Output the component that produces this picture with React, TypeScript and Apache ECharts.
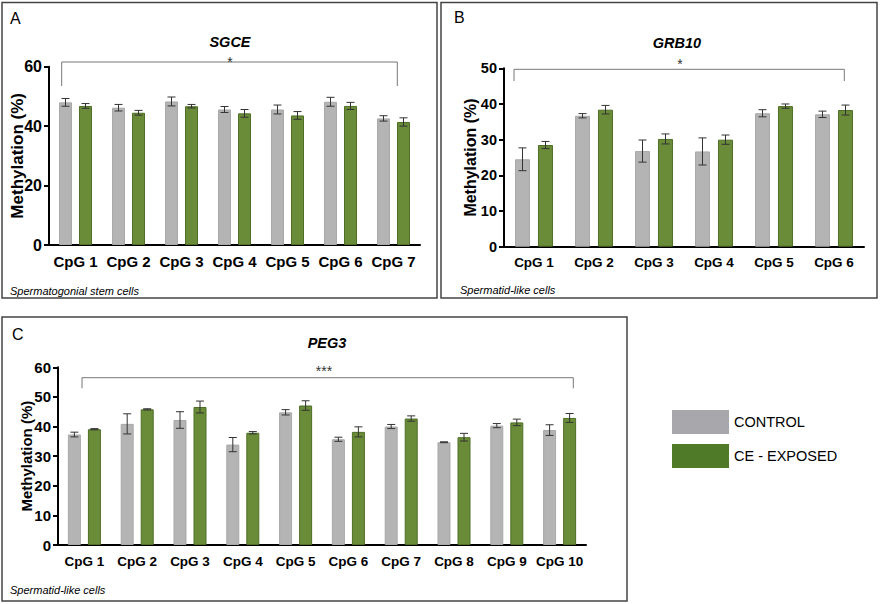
import React, { useEffect, useRef } from 'react';
import * as echarts from 'echarts';

// ---- Data ----
const catsA = ['CpG 1', 'CpG 2', 'CpG 3', 'CpG 4', 'CpG 5', 'CpG 6', 'CpG 7'];
const controlA = [48.0, 46.2, 48.3, 45.6, 45.6, 48.2, 42.6];
const controlAErr = [1.3, 1.1, 1.5, 1.0, 1.5, 1.5, 0.9];
const exposedA = [46.8, 44.5, 46.7, 44.3, 43.6, 46.8, 41.4];
const exposedAErr = [0.8, 0.8, 0.6, 1.3, 1.3, 1.2, 1.4];

const catsB = ['CpG 1', 'CpG 2', 'CpG 3', 'CpG 4', 'CpG 5', 'CpG 6'];
const controlB = [24.5, 36.7, 26.8, 26.7, 37.4, 37.1];
const controlBErr = [3.2, 0.6, 3.1, 3.8, 1.0, 0.9];
const exposedB = [28.5, 38.4, 30.2, 30.0, 39.4, 38.3];
const exposedBErr = [1.0, 1.2, 1.4, 1.3, 0.6, 1.4];

const catsC = ['CpG 1', 'CpG 2', 'CpG 3', 'CpG 4', 'CpG 5', 'CpG 6', 'CpG 7', 'CpG 8', 'CpG 9', 'CpG 10'];
const controlC = [37.3, 40.9, 42.2, 33.9, 44.8, 35.7, 40.0, 34.7, 40.3, 38.8];
const controlCErr = [0.8, 3.4, 2.8, 2.4, 0.9, 0.7, 0.7, 0.15, 0.7, 1.8];
const exposedC = [39.1, 45.8, 46.6, 37.9, 47.1, 38.2, 42.7, 36.4, 41.4, 42.9];
const exposedCErr = [0.2, 0.2, 2.0, 0.4, 1.6, 1.7, 0.9, 1.3, 1.1, 1.5];

const yTicksA = { min: 0, max: 60, interval: 20 };
const yTicksB = { min: 0, max: 50, interval: 10 };
const yTicksC = { min: 0, max: 60, interval: 10 };

const seriesNames = ['CONTROL', 'CE - EXPOSED'];
const panelTitles = ['SGCE', 'GRB10', 'PEG3'];
const panelLetters = ['A', 'B', 'C'];
const cellTypes = ['Spermatogonial stem cells', 'Spermatid-like cells', 'Spermatid-like cells'];
const signif = ['*', '*', '***'];

const FONT = "'Liberation Sans', Arial, sans-serif";
const GRAY = '#b4b4b4';
const GREEN = '#6a8b38';

function errSeries(idx: number, vals: number[], errs: number[], offset: number) {
  return {
    type: 'custom',
    xAxisIndex: idx,
    yAxisIndex: idx,
    silent: true,
    z: 10,
    data: vals.map((v, i) => [i, v, errs[i]]),
    encode: { x: 0, y: 1 },
    renderItem: (_p: any, api: any) => {
      const i = api.value(0);
      const v = api.value(1);
      const e = api.value(2);
      const hi = api.coord([i, v + e]);
      const lo = api.coord([i, v - e]);
      const x = hi[0] + offset;
      const cap = 4;
      const style = { stroke: '#333333', lineWidth: 1 };
      return {
        type: 'group',
        children: [
          { type: 'line', shape: { x1: x, y1: hi[1], x2: x, y2: lo[1] }, style },
          { type: 'line', shape: { x1: x - cap, y1: hi[1], x2: x + cap, y2: hi[1] }, style },
          { type: 'line', shape: { x1: x - cap, y1: lo[1], x2: x + cap, y2: lo[1] }, style },
        ],
      };
    },
  };
}

function barSeries(idx: number, name: string, vals: number[], color: string, border: string, width: number, gap: string) {
  return {
    type: 'bar',
    name,
    xAxisIndex: idx,
    yAxisIndex: idx,
    data: vals,
    barWidth: width,
    barGap: gap,
    itemStyle: { color, borderColor: border, borderWidth: 1 },
    silent: true,
  };
}

function xAxis(idx: number, cats: string[], fontSize: number, margin: number) {
  return {
    type: 'category',
    gridIndex: idx,
    data: cats,
    axisLine: { lineStyle: { color: '#000', width: 2 } },
    axisTick: { alignWithLabel: true, length: 6, lineStyle: { color: '#000', width: 2 } },
    axisLabel: { interval: 0, color: '#000', fontWeight: 'bold', fontSize, fontFamily: FONT, margin, hideOverlap: false },
  };
}

function yAxis(idx: number, t: { min: number; max: number; interval: number }, fontSize: number, nameSize: number, nameGap: number) {
  return {
    type: 'value',
    gridIndex: idx,
    min: t.min,
    max: t.max,
    interval: t.interval,
    name: 'Methylation (%)',
    nameLocation: 'middle',
    nameGap,
    nameMoveOverlap: false,
    nameTextStyle: { color: '#000', fontWeight: 'bold', fontSize: nameSize, fontFamily: FONT },
    axisLine: { show: true, lineStyle: { color: '#000', width: 2 } },
    axisTick: { show: true, length: 5, lineStyle: { color: '#000', width: 2 } },
    axisLabel: { color: '#000', fontWeight: 'bold', fontSize, fontFamily: FONT, margin: 7 },
    splitLine: { show: false },
  };
}

function txt(x: number, y: number, text: string, font: string, align = 'left', fill = '#000') {
  return {
    type: 'text',
    x,
    y,
    silent: true,
    style: { text, font, fill, align, verticalAlign: 'middle', textAlign: align, textVerticalAlign: 'middle' },
  };
}

function box(x: number, y: number, w: number, h: number) {
  return {
    type: 'rect',
    silent: true,
    shape: { x, y, width: w, height: h },
    style: { fill: 'none', stroke: '#444444', lineWidth: 1.5 },
  };
}

function bracket(x1: number, x2: number, y: number, yEnd: number) {
  return {
    type: 'polyline',
    silent: true,
    shape: { points: [[x1, yEnd], [x1, y], [x2, y], [x2, yEnd]] },
    style: { stroke: '#777777', lineWidth: 1, fill: 'none' },
  };
}

export default function App() {
  const ref = useRef<HTMLDivElement>(null);
  useEffect(() => {
    if (!ref.current) return;
    const chart = echarts.init(ref.current, undefined, { renderer: 'svg' });
    const titleStyle = { fontStyle: 'italic', fontWeight: 'bold', fontSize: 14.5, fontFamily: FONT, color: '#000' };
    chart.setOption({
      animation: false,
      backgroundColor: '#ffffff',
      title: [
        { text: panelTitles[0], left: 230, top: 34, textAlign: 'center', textStyle: titleStyle, padding: 0 },
        { text: panelTitles[1], left: 677, top: 35, textAlign: 'center', textStyle: titleStyle, padding: 0 },
        { text: panelTitles[2], left: 327, top: 335, textAlign: 'center', textStyle: titleStyle, padding: 0 },
      ],
      legend: {
        orient: 'vertical',
        left: 667,
        top: 405,
        itemWidth: 57,
        itemHeight: 24,
        itemGap: 10,
        selectedMode: false,
        icon: 'rect',
        textStyle: { color: '#000', fontSize: 14.5, fontFamily: FONT },
        data: [
          { name: seriesNames[0], itemStyle: { color: '#a8a8ac', borderWidth: 0 } },
          { name: seriesNames[1], itemStyle: { color: '#4f7a28', borderWidth: 0 } },
        ],
      },
      grid: [
        { left: 49, top: 66.7, width: 371, height: 178.3 },
        { left: 504, top: 68.3, width: 360, height: 178.4 },
        { left: 58, top: 367.3, width: 528, height: 177.7 },
      ],
      xAxis: [xAxis(0, catsA, 15, 9), xAxis(1, catsB, 13.5, 9), xAxis(2, catsC, 13.5, 9)],
      yAxis: [yAxis(0, yTicksA, 16, 17, 23.5), yAxis(1, yTicksB, 14.5, 16, 26), yAxis(2, yTicksC, 15, 15, 24)],
      series: [
        barSeries(0, seriesNames[0], controlA, GRAY, '#a8a8a8', 13, '54%'),
        barSeries(0, seriesNames[1], exposedA, GREEN, '#4f6f26', 13, '54%'),
        barSeries(1, seriesNames[0], controlB, GRAY, '#a8a8a8', 15, '53%'),
        barSeries(1, seriesNames[1], exposedB, GREEN, '#4f6f26', 15, '53%'),
        barSeries(2, seriesNames[0], controlC, GRAY, '#a8a8a8', 13, '54%'),
        barSeries(2, seriesNames[1], exposedC, GREEN, '#4f6f26', 13, '54%'),
        errSeries(0, controlA, controlAErr, -10),
        errSeries(0, exposedA, exposedAErr, 10),
        errSeries(1, controlB, controlBErr, -11.5),
        errSeries(1, exposedB, exposedBErr, 11.5),
        errSeries(2, controlC, controlCErr, -10),
        errSeries(2, exposedC, exposedCErr, 10),
      ],
      graphic: [
        box(2, 2.5, 435, 295.5),
        box(441, 2.5, 436, 295.5),
        box(2, 317, 625, 284),
        txt(10, 18, panelLetters[0], `16px ${FONT}`),
        txt(454, 17, panelLetters[1], `16px ${FONT}`),
        txt(12, 334, panelLetters[2], `16px ${FONT}`),
        txt(10, 291, cellTypes[0], `italic 11px ${FONT}`),
        txt(460, 290, cellTypes[1], `italic 11px ${FONT}`),
        txt(10, 590, cellTypes[2], `italic 11px ${FONT}`),
        bracket(61.7, 397.3, 62, 86),
        bracket(514, 844.3, 69.3, 81),
        bracket(82, 573.3, 377.7, 388.3),
        txt(230, 62, signif[0], `14px ${FONT}`, 'center', '#333'),
        txt(680, 64, signif[1], `14px ${FONT}`, 'center', '#333'),
        txt(324, 371, signif[2], `14px ${FONT}`, 'center', '#333'),
      ],
    });
    return () => chart.dispose();
  }, []);
  return <div ref={ref} style={{ position: 'absolute', left: 0, top: 0, width: 881, height: 604, background: '#fff' }} />;
}
